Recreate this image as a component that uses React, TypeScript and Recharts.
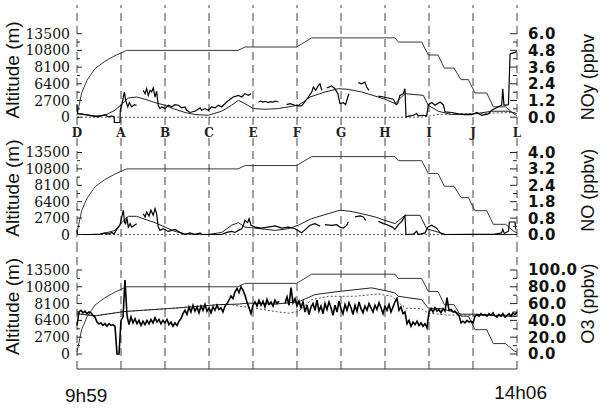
import React from "react";
import { LineChart, Line, XAxis, YAxis, ReferenceLine } from "recharts";

// time axis: minutes after 9h59 (landing 14h06)
const timeEnd = 247;
const timeLabels = ["9h59", "14h06"];
const timeTicks = [0, 247];
const legLetters = ["D", "A", "B", "C", "E", "F", "G", "H", "I", "J", "L"];
const legTimes = [0, 24.7, 49.4, 74.1, 98.8, 123.5, 148.2, 172.9, 197.6, 222.3, 247];

// tick labels (evenly spaced on the figure)
const altLabels = [0, 2700, 6400, 8100, 10800, 13500];
const noyLabels = [0, 1.2, 2.4, 3.6, 4.8, 6.0];
const noLabels = [0, 0.8, 1.8, 2.4, 3.2, 4.0];
const o3Labels = [0, 20, 40, 60, 80, 100];
const halfTicks = [0, 0.5, 1, 1.5, 2, 2.5, 3, 3.5, 4, 4.5, 5];

type Pt = [number, number | null];

// flight altitude (m)
const altitude: Pt[] = [
  [0, 300], [2.6, 4350], [5.6, 6750], [10.1, 7950], [15.7, 9050], [21.3, 9950], [27.9, 10800],
  [90.4, 10800], [94.3, 11350], [123.3, 11350], [131.7, 12825], [178.5, 12825], [180.4, 12150],
  [193.5, 12150], [197.2, 10050], [202.7, 10050], [206.2, 8000], [211.6, 8000], [215.6, 6825],
  [219.7, 6825], [223.4, 4365], [230.0, 4365], [233.7, 1675], [240.6, 1675], [245.3, 500], [247, 300],
];

// NOy (ppbv)
const noyMeasured: Pt[] = [
  [0, 0.9], [0.3, 0.3], [0.7, 0.26], [4.5, 0.19], [8.3, 0.09], [12.0, 0.02], [15.7, 0.19], [17.6, 0.02],
  [19.6, 0.1], [20.9, 0.0], [21.0, -0.38], [24.1, -0.38], [24.3, 0.5], [25.1, 0.86], [26.6, 1.81],
  [27.3, 1.21], [28.5, 0.74], [29.4, 1.05], [30.7, 0.74], [32.2, 0.9], [33.5, 0.86], [34.5, null],
  [37.2, 1.93], [38.2, 1.69], [39.1, 2.05], [40.0, 1.57], [41.0, 1.93], [41.9, 1.81], [42.8, 2.1],
  [43.8, 1.45], [44.7, 1.86], [45.6, 0.86], [46.6, 0.62], [47.6, 0.74], [49.4, 0.62], [51.3, 0.86],
  [53.2, 0.74], [55.0, 0.9], [56.9, 0.86], [58.8, 0.67], [60.6, 0.74], [61.6, 0.5], [63.4, 0.34],
  [66.2, 0.43], [69.1, 0.67], [70.0, 0.5], [71.9, 0.62], [73.7, 0.5], [75.6, 0.74], [77.5, 0.67],
  [79.3, 0.86], [81.2, 0.74], [84.0, 1.09], [85.9, 1.29], [87.7, 1.45], [90.6, 1.57], [92.5, 1.45],
  [94.3, 1.69], [96.2, 1.57], [97.7, 1.69], [98.5, null], [101.8, 1.09], [103.0, 1.16], [104.4, 1.09],
  [105.8, 1.14], [107.2, 1.05], [108.6, 1.12], [110.0, 1.09], [111.5, 1.16], [113.0, 1.09], [115, null],
  [117.7, 0.9], [119.6, 0.98], [122.4, 0.86], [124.2, 0.81], [126.1, 0.81], [129.9, 1.45], [131.8, 1.81],
  [132.7, 2.17], [134.0, 1.93], [135.5, 2.28], [136.4, 2.4], [137.4, 1.93], [138.5, null], [140.2, 2.1],
  [143.0, 2.24], [144.8, 2.05], [146.4, 1.69], [147.6, 0.98], [149.5, 1.05], [150.8, 0.9], [152.0, 1.45],
  [152.7, 1.69], [154, null], [157.9, 2.48], [159.8, 2.4], [161.7, 2.52], [162.6, 2.17], [163.9, 1.93],
  [166, null], [169.2, 1.52], [172.0, 1.45], [174.8, 1.38], [177.6, 1.29], [179.1, 0.9], [180.0, 0.98],
  [181.3, 1.57], [183.2, 1.69], [184.1, 2.05], [184.7, 0.02], [187.0, 0.09], [188.8, 0.14], [190.7, 0.26],
  [191.6, 0.09], [194.4, 0.14], [196.3, 0.09], [197.2, 0.9], [199.1, 1.05], [201.0, 0.86], [203.8, 1.09],
  [205.6, 0.9], [206.6, 0.38], [210.4, 0.34], [214.1, 0.24], [217.8, 0.19], [221.6, 0.19], [224.4, 0.34],
  [227.2, 0.14], [230.9, 0.24], [232.8, 0.5], [234.7, 0.62], [236.5, 0.74], [238.4, 0.86], [239.0, 2.05],
  [239.7, 0.86], [242.2, 0.9], [243.1, 4.55], [245.9, 4.66], [246.8, 4.71],
];
const noyModel: Pt[] = [
  [0, 0.26], [4.5, 0.19], [10.1, 0.09], [15.7, 0.14], [21.3, 0.5], [25.6, 0.98], [28.8, 1.38], [33.5, 1.45],
  [38.2, 1.29], [43.8, 1.05], [49.4, 0.86], [55.0, 0.57], [60.6, 0.34], [66.2, 0.19], [73.7, 0.14],
  [81.2, 0.43], [86.8, 0.86], [90.6, 1.21], [94.3, 0.98], [99.0, 0.62], [105.5, 0.57], [113.0, 0.62],
  [118.6, 0.74], [124.2, 0.86], [127.1, 1.09], [130.8, 1.45], [139.2, 1.81], [146.7, 2.05], [152.3, 2.0],
  [159.8, 1.81], [167.3, 1.52], [172.9, 1.29], [178.5, 0.98], [184.1, 1.69], [194.4, 1.57], [197.2, 0.86],
  [202.8, 0.43], [210.3, 0.19], [223.4, 0.24], [232.8, 0.43], [242.1, 0.43], [246.8, 0.26],
];
const noyBackground: Pt[] = [[0, 0], [193.5, 0], [202.7, 0.19], [242, 0.33], [247, 0.33]];

// NO (ppbv)
const noMeasured: Pt[] = [
  [0, 0.2], [0.3, 0.0], [1.7, 0.0], [7.3, 0.0], [12.9, 0.02], [15.7, 0.08], [17.4, 0.02], [19.5, 0.1],
  [20.8, 0.02], [22.3, 0.25], [24.1, 0.45], [25.1, 0.87], [26.0, 1.28], [26.7, 0.6], [27.3, 0.53],
  [27.9, 0.87], [28.8, 0.36], [29.8, 0.53], [30.7, 0.36], [32.2, 0.45], [33.5, 0.53], [35, null],
  [37.2, 1.07], [38.2, 0.87], [39.1, 1.17], [40.4, 0.93], [41.5, 1.28], [42.8, 0.97], [43.8, 1.38],
  [44.7, 1.07], [45.6, 0.36], [46.6, 0.2], [48.4, 0.28], [51.3, 0.15], [55.0, 0.25], [57.8, 0.11],
  [60.6, 0.0], [63.4, 0.08], [66.2, 0.0], [69.1, 0.08], [70.0, 0.0], [81.2, 0.0], [84.0, 0.1], [86.9, 0.15],
  [88.7, 0.1], [90.6, 0.2], [92.5, 0.28], [93.4, 0.45], [94.3, 0.69], [95.8, 0.58], [96.6, 0.77],
  [97.7, 0.45], [99.9, 0.36], [103.7, 0.31], [107.2, 0.36], [111.2, 0.42], [114.9, 0.31], [118.6, 0.36],
  [122.4, 0.28], [126.1, 0.08], [130.8, 0.45], [133.6, 0.53], [136.4, 0.41], [137.8, null], [139.2, 0.48],
  [143.0, 0.45], [145.8, 0.48], [147.6, 0.36], [149.5, 0.31], [151.4, 0.45], [152.3, 0.61], [153.8, null],
  [156.1, 0.87], [158.9, 0.93], [160.7, 0.87], [162.1, 0.69], [166, null], [169.2, 0.64], [172.0, 0.53],
  [174.8, 0.45], [177.0, 0.36], [178.5, 0.25], [180.4, 0.48], [182.3, 0.64], [184.1, 0.93], [184.7, 0.0],
  [188.8, 0.02], [190.7, 0.16], [191.6, 0.0], [195.4, 0.08], [196.9, 0.36], [199.1, 0.45], [201.9, 0.31],
  [203.8, 0.08], [206.6, 0.0], [234.7, 0.02], [238.4, 0.08], [239.0, 0.25], [239.9, 0.05], [242.2, 0.16],
  [242.7, 0.61], [245.9, 0.61], [246.3, 0.25],
];
const noModel: Pt[] = [
  [0, 0.0], [12.9, 0.0], [21.3, 0.2], [25.1, 0.58], [28.8, 0.91], [33.5, 0.91], [38.2, 0.74], [43.8, 0.58],
  [49.4, 0.36], [55.0, 0.15], [60.6, 0.03], [73.5, 0.0], [81.2, 0.1], [86.8, 0.45], [90.6, 0.58],
  [94.3, 0.36], [99.9, 0.31], [111.2, 0.2], [118.4, 0.28], [124.2, 0.45], [131.6, 0.77], [141.0, 1.07],
  [147.6, 1.28], [153.3, 1.22], [159.8, 1.07], [167.3, 0.87], [172.9, 0.69], [178.5, 0.53], [184.1, 0.97],
  [192.6, 0.97], [196.3, 0.28], [202.8, 0.11], [206.6, 0.0], [247, 0.0],
];
const noBackground: Pt[] = [[0, 0], [247, 0]];

// O3 (ppbv), regular samples from 9h59 to 14h06
const o3Measured: (number | null)[] = [
  34, 50, 52, 49, 51, 48, 50, 49, 46, 44,
  38, 36, 37, 34, 36, 33, 36, 34, 35, 33,
  0, 0, 40, 44, 88, 46, 35, 44, 37, 42,
  36, 40, 34, 39, 35, 40, 36, 41, 37, 43,
  38, 41, 36, 40, 37, 41, 35, 38, 33, 37,
  34, 39, 42, 48, 52, 47, 56, 50, 58, 51,
  56, 49, 57, 52, 59, 51, 55, 49, 56, 52,
  58, 53, 55, 50, 57, 60, 64, 69, 66, 74,
  78, 73, 80, 76, 70, 62, 55, 48, 58, 62,
  57, 64, 58, 63, 56, 65, 59, 62, 57, 64,
  60, 63, null, null, 60, 68, 58, 79, 61, 66,
  57, 63, 55, 62, 50, 58, 47, 56, 60, 52,
  64, 51, 57, 48, 60, 53, 62, 55, 46, 58,
  50, 63, 54, 48, 59, 52, 61, 55, 47, 58,
  51, 62, 54, 49, 57, 52, 60, 55, 50, 58,
  53, 61, 55, 48, 57, 52, 59, 50, 56, 62,
  66, 52, 56, 48, 50, 36, 40, 33, 38, 35,
  39, 34, 37, 33, 36, 31, 50, 54, 50, 55,
  51, 53, 49, 54, 51, 67, 52, 53, 50, 51,
  48, 46, 37, 39, 37, 40, 38, 39, 37, 45,
  47, 45, 48, 46, 47, 45, 48, 46, 49, 45,
  44, 47, 45, 48, 44, 46, 48, 45, 49, 47,
  50,
];
const o3Model: Pt[] = [
  [0, 48], [10.1, 45.4], [26.9, 50.6], [55.0, 54.6], [79.3, 58.7], [90.6, 59.4], [96.2, 60.6],
  [111.2, 59.4], [124.2, 62], [133.6, 70.7], [144.8, 73.9], [165.4, 78.7], [172.9, 75.5], [178.5, 72.7],
  [180.4, 68.7], [193.5, 64.7], [197.2, 54.6], [204.7, 53.8], [212.2, 49.8], [216.0, 47.4],
  [223.4, 47.4], [234.7, 45.8], [246.8, 44.6],
];
const o3Background: Pt[] = [
  [0, 48], [10.1, 45.4], [26.9, 50.6], [55.0, 54.6], [79.3, 58.7], [86, 59], [90.6, 57], [99.9, 54.6],
  [111.2, 50.6], [118.6, 48.6], [124.2, 50.6], [131.8, 64.7], [141.1, 68.7], [156.1, 68.7],
  [169.2, 71.5], [176.7, 68.7], [184.1, 54.6], [193.5, 53.8], [197.2, 48.6], [206.6, 46.6],
  [223.4, 45.8], [234.7, 46.6], [246.8, 45.8],
];

// the axes are drawn with evenly spaced labels, so values go through the label positions
function toIdx(v: number, labels: number[]) {
  for (let i = 1; i < labels.length; i++) {
    if (v <= labels[i] || i === labels.length - 1) {
      return i - 1 + (v - labels[i - 1]) / (labels[i] - labels[i - 1]);
    }
  }
  return 0;
}

const rows = (pts: Pt[], labels: number[]) =>
  pts.map(([t, v]) => ({ t, v: v === null ? null : toIdx(v, labels) }));

const o3Step = timeEnd / (o3Measured.length - 1);
const o3Rows = o3Measured.map((v, i) => ({ t: i * o3Step, v: v === null ? null : toIdx(v, o3Labels) }));

const SANS = "'Liberation Sans', Arial, sans-serif";
const WIDE_SANS = "'DejaVu Sans', sans-serif";
const SERIF = "'DejaVu Serif', serif";

function LeftTick(props: any) {
  const { x, y, payload } = props;
  const major = Number.isInteger(payload.value);
  const ax = x + 7;
  return (
    <g>
      <line x1={ax} x2={ax + (major ? 5 : 3)} y1={y} y2={y} stroke="#222" />
      {major && (
        <text x={x} y={y} dy={5} textAnchor="end" fontFamily={SERIF} fontSize={14} fill="#111">
          {altLabels[payload.value]}
        </text>
      )}
    </g>
  );
}

function RightTick(props: any) {
  const { x, y, payload, labels } = props;
  const major = Number.isInteger(payload.value);
  const ax = x - 11;
  return (
    <g>
      <line x1={ax} x2={ax - (major ? 7 : 4)} y1={y} y2={y} stroke="#222" />
      {major && (
        <text x={x} y={y} dy={5.5} textAnchor="start" fontFamily={WIDE_SANS} fontWeight="bold" fontSize={15}
          letterSpacing={0.4} fill="#111">
          {labels[payload.value].toFixed(1)}
        </text>
      )}
    </g>
  );
}

function LetterTick(props: any) {
  const { x, y, index } = props;
  return (
    <text x={x} y={y} dy={12} textAnchor="middle" fontFamily={SERIF} fontWeight="bold" fontSize={12} fill="#222">
      {legLetters[index]}
    </text>
  );
}

function TimeTick(props: any) {
  const { x, y, index } = props;
  const first = index === 0;
  return (
    <text x={first ? x - 12 : x + 30} y={y} dy={first ? 33 : 30} textAnchor={first ? "start" : "end"}
      fontFamily={SANS} fontSize={19} fill="#111">
      {timeLabels[index]}
    </text>
  );
}

const axisTitle = (text: string, idx: number, domain: number[], side: "left" | "right") => (props: any) => {
  const vb = props.viewBox || { x: 0, y: 0, width: 0, height: 0 };
  const cy = vb.y + (vb.height * (domain[1] - idx)) / (domain[1] - domain[0]);
  const cx = side === "left" ? vb.x + 13 : vb.x + 71;
  return (
    <text x={cx} y={cy} transform={`rotate(-90 ${cx} ${cy})`} textAnchor="middle" dominantBaseline="central"
      fontFamily={SANS} fontSize={side === "left" ? 19 : 18} fill="#111">
      {text}
    </text>
  );
};

interface Series {
  rows: { t: number; v: number | null }[];
  color: string;
  width: number;
  dash?: string;
}

interface PanelProps {
  top: number;
  height: number;
  marginTop: number;
  domain: number[];
  rightLabels: number[];
  rightTitle: string;
  rightTitleIdx: number;
  series: Series[];
  bottom: "letters" | "none" | "time";
  border?: boolean;
}

function Panel(p: PanelProps) {
  return (
    <div style={{ position: "absolute", left: 0, top: p.top }}>
      <LineChart width={601} height={p.height} margin={{ top: p.marginTop, right: 0, bottom: 0, left: 0 }}>
        {p.border && (
          <XAxis xAxisId="top" orientation="top" dataKey="t" type="number" domain={[0, timeEnd]} height={0}
            tick={false} tickLine={false} axisLine={{ stroke: "#333" }} />
        )}
        {p.bottom === "letters" && (
          <XAxis dataKey="t" type="number" domain={[0, timeEnd]} ticks={legTimes} interval={0} height={15}
            axisLine={false} tickLine={false} tickSize={0} tickMargin={0} tick={(t: any) => <LetterTick {...t} />} />
        )}
        {p.bottom === "none" && <XAxis dataKey="t" type="number" domain={[0, timeEnd]} hide />}
        {p.bottom === "time" && (
          <XAxis dataKey="t" type="number" domain={[0, timeEnd]} ticks={timeTicks} interval={0} height={40}
            axisLine={{ stroke: "#333" }} tickLine={false} tickSize={0} tickMargin={0}
            tick={(t: any) => <TimeTick {...t} />} />
        )}
        <YAxis yAxisId="l" orientation="left" width={77} type="number" domain={p.domain} allowDataOverflow
          ticks={halfTicks} interval={0} axisLine={false} tickLine={false} tickSize={0} tickMargin={7}
          tick={(t: any) => <LeftTick {...t} />}
          label={axisTitle("Altitude (m)", 2.83, p.domain, "left")} />
        <YAxis yAxisId="r" orientation="right" width={84} type="number" domain={p.domain} allowDataOverflow
          ticks={halfTicks} interval={0} axisLine={false} tickLine={false} tickSize={0} tickMargin={11}
          tick={(t: any) => <RightTick {...t} labels={p.rightLabels} />}
          label={axisTitle(p.rightTitle, p.rightTitleIdx, p.domain, "right")} />
        {legTimes.map((t) => (
          <ReferenceLine key={t} x={t} yAxisId="l" stroke="#444" strokeDasharray="8 5" />
        ))}
        {p.series.map((s, i) => (
          <Line key={i} yAxisId="l" data={s.rows} dataKey="v" type="linear" dot={false} activeDot={false}
            stroke={s.color} strokeWidth={s.width} strokeDasharray={s.dash} isAnimationActive={false} />
        ))}
      </LineChart>
    </div>
  );
}

const altRows = rows(altitude, altLabels);

export default function App() {
  return (
    <div style={{ position: "absolute", left: 0, top: 0, width: 601, height: 409, background: "#fff", overflow: "hidden" }}>
      <Panel top={0} height={140} marginTop={5} domain={[-0.467, 6.719]} rightLabels={noyLabels}
        rightTitle="NOy (ppbv" rightTitleIdx={2.4} bottom="letters" border
        series={[
          { rows: altRows, color: "#3a3a3a", width: 1 },
          { rows: rows(noyBackground, noyLabels), color: "#555", width: 1, dash: "2 2" },
          { rows: rows(noyModel, noyLabels), color: "#222", width: 1 },
          { rows: rows(noyMeasured, noyLabels), color: "#000", width: 1.2 },
        ]} />
      <Panel top={137} height={113} marginTop={0} domain={[-0.945, 5.945]} rightLabels={noLabels}
        rightTitle="NO (ppbv)" rightTitleIdx={2.7} bottom="none"
        series={[
          { rows: altRows, color: "#3a3a3a", width: 1 },
          { rows: rows(noBackground, noLabels), color: "#555", width: 1, dash: "2 2" },
          { rows: rows(noModel, noLabels), color: "#222", width: 1 },
          { rows: rows(noMeasured, noLabels), color: "#000", width: 1.2 },
        ]} />
      <Panel top={250} height={159} marginTop={0} domain={[-0.893, 6.19]} rightLabels={o3Labels}
        rightTitle="O3 (ppbv)" rightTitleIdx={3.0} bottom="time"
        series={[
          { rows: altRows, color: "#3a3a3a", width: 1 },
          { rows: rows(o3Background, o3Labels), color: "#555", width: 1, dash: "2 2" },
          { rows: rows(o3Model, o3Labels), color: "#222", width: 1 },
          { rows: o3Rows, color: "#000", width: 1.6 },
        ]} />
    </div>
  );
}
